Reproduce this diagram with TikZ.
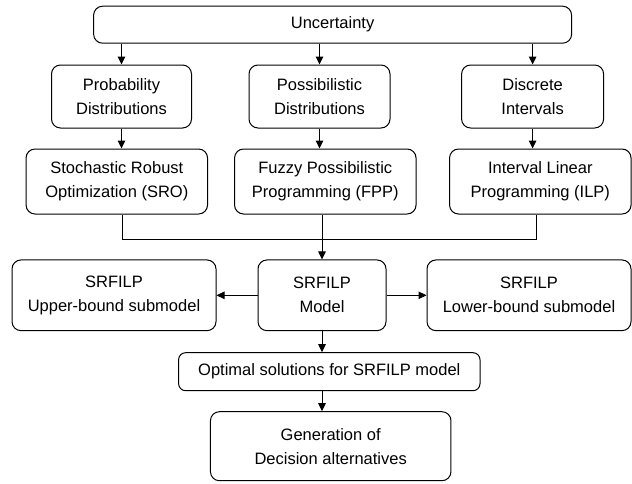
\documentclass[tikz,border=0pt]{standalone}
\usepackage{fontspec}
\setmainfont{Liberation Sans}
\usetikzlibrary{arrows.meta,calc}
\begin{document}
\begin{tikzpicture}[x=1pt,y=-1pt,
  box/.style={draw=black,line width=1pt,rounded corners=9pt,align=center,inner sep=0pt,
    font=\fontsize{16.5}{24}\selectfont},
  arr/.style={line width=1pt,-{Triangle[length=8pt,width=7.5pt]}},
  ln/.style={line width=1pt}]
\useasboundingbox (0,0) rectangle (632,483);
\node[box,minimum width=478pt,minimum height=37pt] (unc) at (332.6,24.7) {Uncertainty};
\node[box,minimum width=140pt,minimum height=63pt] (prob) at (121.5,96.5) {Probability\\Distributions};
\node[box,minimum width=141pt,minimum height=63pt] (poss) at (319.5,96.5) {Possibilistic\\Distributions};
\node[box,minimum width=142pt,minimum height=63pt] (disc) at (532.6,96.5) {Discrete\\Intervals};
\node[box,minimum width=181.5pt,minimum height=65pt] (sro) at (116.8,181.5) {Stochastic Robust\\Optimization (SRO)};
\node[box,minimum width=181.5pt,minimum height=65pt] (fpp) at (325.3,181.5) {Fuzzy Possibilistic\\Programming (FPP)};
\node[box,minimum width=181.5pt,minimum height=65pt] (ilp) at (540.3,181.5) {Interval Linear\\Programming (ILP)};
\node[box,minimum width=204pt,minimum height=70.7pt] (up) at (114,295.3) {SRFILP\\Upper-bound submodel};
\node[box,minimum width=128pt,minimum height=70.7pt] (model) at (322,295.3) {SRFILP\\Model};
\node[box,minimum width=204pt,minimum height=70.7pt] (low) at (529,295.3) {SRFILP\\Lower-bound submodel};
\node[box,minimum width=301.4pt,minimum height=38pt,rounded corners=7pt] (opt) at (329.3,371.7) {Optimal solutions for SRFILP model};
\node[box,minimum width=240.5pt,minimum height=69pt] (gen) at (330.7,446.2) {Generation of\\Decision alternatives};
% arrows from uncertainty
\draw[arr] (unc.south -| prob.north) -- (prob.north);
\draw[arr] (unc.south -| poss.north) -- (poss.north);
\draw[arr] (unc.south -| disc.north) -- (disc.north);
% row 2 to row 3
\draw[arr] (prob.south) -- (prob.south |- sro.north);
\draw[arr] (poss.south) -- (poss.south |- fpp.north);
\draw[arr] (disc.south) -- (disc.south |- ilp.north);
% merging
\coordinate (jl) at (122,239.3);
\coordinate (jr) at (536,239.3);
\draw[ln] (jl |- sro.south) -- (jl) -- (jr) -- (jr |- ilp.south);
\draw[arr] (fpp.south -| model.north) -- (model.north);
% side arrows
\draw[arr] (model.west) -- (up.east);
\draw[arr] (model.east) -- (low.west);
% down
\draw[arr] (model.south) -- (model.south |- opt.north);
\draw[arr] (opt.south -| model.south) -- (gen.north -| model.south);
\end{tikzpicture}
\end{document}
